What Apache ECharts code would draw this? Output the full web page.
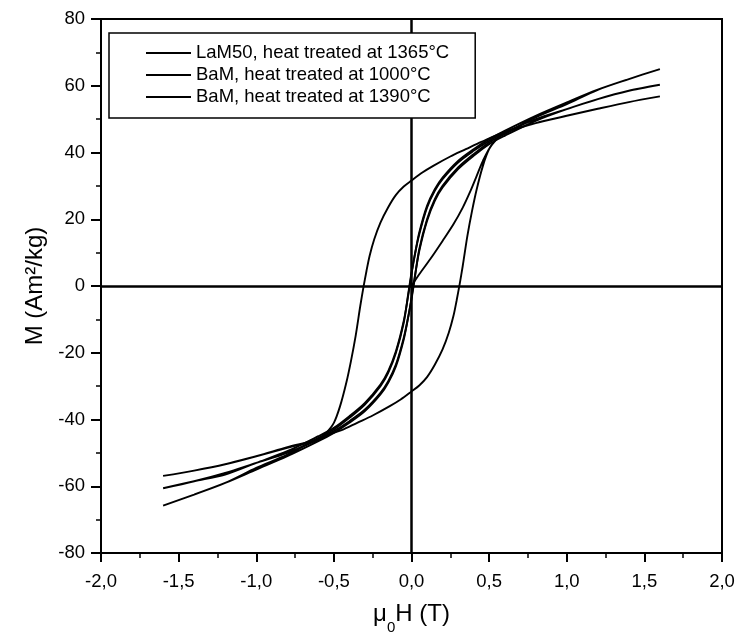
<!DOCTYPE html>
<html>
<head>
<meta charset="utf-8">
<script src="https://cdn.jsdelivr.net/npm/echarts@6/dist/echarts.min.js"></script>
<style>
html,body{margin:0;padding:0;background:#fff;}
#chart{width:740px;height:640px;}
</style>
</head>
<body>
<div id="chart"></div>
<script>
// ---------- data ----------
const seriesNames = [
  'LaM50, heat treated at 1365°C',
  'BaM, heat treated at 1000°C',
  'BaM, heat treated at 1390°C'
];

// wide loop (with initial magnetisation curve): H (T), M (Am²/kg)
const wideH = [
  0, 0.05, 0.12, 0.2, 0.27, 0.33, 0.38, 0.42, 0.46, 0.52, 0.6, 0.8, 1.0, 1.2, 1.4, 1.6,
  1.4, 1.2, 1.0, 0.8, 0.6, 0.45, 0.35, 0.25, 0.14, 0.07, 0, -0.05, -0.1, -0.15, -0.2, -0.24, -0.27, -0.29, -0.31, -0.33, -0.36, -0.39, -0.42, -0.46, -0.5, -0.55, -0.6, -0.8, -1.0, -1.2, -1.4, -1.6,
  -1.4, -1.2, -1.0, -0.8, -0.6, -0.55, -0.45, -0.35, -0.25, -0.14, -0.07, 0, 0.05, 0.1, 0.15, 0.2, 0.24, 0.27, 0.29, 0.31, 0.33, 0.36, 0.39, 0.42, 0.46, 0.5, 0.55, 0.6, 0.8, 1.0, 1.2, 1.4, 1.6
];
const wideM = [
  0, 3.5, 8, 13.5, 18.5, 23.5, 28.5, 33, 37.5, 42.5, 46, 48.8, 51, 53.1, 55.1, 56.8,
  55.1, 53.1, 51, 48.8, 46.2, 43.2, 41, 38.8, 36, 34, 31.6, 29.8, 27.3, 23.6, 19, 14, 9, 4.5, -0.5, -6, -15, -22.5, -29, -36, -41, -44, -45.8, -48.3, -51, -53.4, -55.3, -56.9,
  -55.3, -53.4, -51, -48.5, -46.2, -44.8, -43.2, -41, -38.8, -36, -34, -31.6, -29.8, -27.3, -23.6, -19, -14, -9, -4.5, 0.5, 6, 15, 22.5, 29, 36, 41, 44, 45.8, 48.8, 51, 53.1, 55.1, 56.8
];

// narrow loop with highest magnetisation at 1.6 T
const narrowAH = [
  1.6, 1.4, 1.2, 1.0, 0.8, 0.6, 0.5, 0.4, 0.3, 0.2, 0.15, 0.1, 0.05, 0.02, 0, -0.02, -0.05, -0.1, -0.15, -0.2, -0.3, -0.4, -0.5, -0.6, -0.8, -1.0, -1.2, -1.4, -1.6,
  -1.4, -1.2, -1.0, -0.8, -0.6, -0.5, -0.4, -0.3, -0.2, -0.15, -0.1, -0.05, -0.02, 0, 0.02, 0.05, 0.1, 0.15, 0.2, 0.3, 0.4, 0.5, 0.6, 0.8, 1.0, 1.2, 1.4, 1.6
];
const narrowAM = [
  65, 62, 58.8, 55, 51, 46.5, 44, 41, 37.5, 32.5, 29, 24, 16, 9, 4, -2, -11, -20, -26, -30, -35.5, -39.5, -43, -45.5, -50.5, -54.5, -59, -62.5, -65.8,
  -62.5, -59, -55, -51, -46.5, -44, -41, -37.5, -32.5, -29, -24, -16, -9, -4, 2, 11, 20, 26, 30, 35.5, 39.5, 43, 45.5, 50.5, 54.5, 58.8, 62, 65
];

// narrow loop with intermediate magnetisation at 1.6 T
const narrowBH = [
  1.6, 1.4, 1.2, 1.0, 0.8, 0.6, 0.5, 0.4, 0.3, 0.2, 0.15, 0.1, 0.05, 0.02, 0, -0.02, -0.05, -0.1, -0.15, -0.2, -0.3, -0.4, -0.5, -0.6, -0.8, -1.0, -1.2, -1.4, -1.6,
  -1.4, -1.2, -1.0, -0.8, -0.6, -0.5, -0.4, -0.3, -0.2, -0.15, -0.1, -0.05, -0.02, 0, 0.02, 0.05, 0.1, 0.15, 0.2, 0.3, 0.4, 0.5, 0.6, 0.8, 1.0, 1.2, 1.4, 1.6
];
const narrowBM = [
  60.3, 58.5, 56, 53, 50, 46, 43.5, 40.5, 37, 32, 28.5, 23.5, 15.5, 9, 3.5, -2.5, -10.5, -19.5, -25.5, -29.5, -35, -39, -42.5, -45, -49.5, -53, -56.5, -58.5, -60.6,
  -58.5, -56, -53, -50, -46, -43.5, -40.5, -37, -32, -28.5, -23.5, -15.5, -9, -3.5, 2.5, 10.5, 19.5, 25.5, 29.5, 35, 39, 42.5, 45, 49.5, 53, 56, 58.5, 60.3
];

const xTicks = [-2, -1.5, -1, -0.5, 0, 0.5, 1, 1.5, 2];
const yTicks = [-80, -60, -40, -20, 0, 20, 40, 60, 80];

// ---------- chart ----------
const pairs = (h, m) => h.map((v, i) => [v, m[i]]);
const FONT = '"Liberation Sans", Arial, sans-serif';
const chart = echarts.init(document.getElementById('chart'), null, {renderer: 'canvas'});

function lineSeries(name, data, extra) {
  return Object.assign({
    name: name,
    type: 'line',
    data: data,
    symbol: 'none',
    smooth: 0.3,
    lineStyle: {color: '#000', width: 1.9},
    itemStyle: {color: '#000'},
    z: 3
  }, extra || {});
}

chart.setOption({
  animation: false,
  backgroundColor: '#fff',
  grid: {left: 101, right: 18, top: 19, bottom: 85, show: true, borderColor: '#000', borderWidth: 2, backgroundColor: 'transparent'},
  legend: {
    orient: 'vertical',
    left: 109, top: 33,
    padding: [10, 26, 11, 37],
    itemWidth: 45, itemHeight: 2, itemGap: 2,
    borderColor: '#000', borderWidth: 1.5,
    backgroundColor: '#fff',
    icon: 'rect',
    textStyle: {fontFamily: FONT, fontSize: 18.5, color: '#000', lineHeight: 20},
    data: seriesNames,
    z: 10
  },
  xAxis: {
    type: 'value', min: xTicks[0], max: xTicks[xTicks.length - 1], interval: 0.5,
    name: '{a|μ}{s|0}{a|H (T)}',
    nameLocation: 'middle', nameGap: 49,
    nameTextStyle: {rich: {
      a: {fontFamily: FONT, fontSize: 24, color: '#000'},
      s: {fontFamily: FONT, fontSize: 15, color: '#000', verticalAlign: 'bottom', padding: [0, 0, -9, 0]}
    }},
    axisLine: {show: true, onZero: false, lineStyle: {color: '#000', width: 2}},
    axisTick: {show: true, inside: false, length: 9, lineStyle: {color: '#000', width: 2}},
    minorTick: {show: true, splitNumber: 2, length: 5, lineStyle: {color: '#000', width: 1.5}},
    splitLine: {show: false},
    axisLabel: {fontFamily: FONT, fontSize: 18.5, color: '#000', margin: 19,
      formatter: v => v.toFixed(1).replace('.', ',')}
  },
  yAxis: {
    type: 'value', min: yTicks[0], max: yTicks[yTicks.length - 1], interval: 20,
    name: 'M (Am²/kg)',
    nameLocation: 'middle', nameGap: 52, nameRotate: 90,
    nameTextStyle: {fontFamily: FONT, fontSize: 24, color: '#000'},
    axisLine: {show: true, onZero: false, lineStyle: {color: '#000', width: 2}},
    axisTick: {show: true, inside: false, length: 10, lineStyle: {color: '#000', width: 2}},
    minorTick: {show: true, splitNumber: 2, length: 5, lineStyle: {color: '#000', width: 1.5}},
    splitLine: {show: false},
    axisLabel: {fontFamily: FONT, fontSize: 18.5, color: '#000', margin: 16}
  },
  series: [
    lineSeries(seriesNames[0], pairs(wideH, wideM), {
      markLine: {
        silent: true, symbol: 'none', label: {show: false},
        lineStyle: {color: '#000', width: 2.5, type: 'solid'},
        data: [{xAxis: 0}, {yAxis: 0}],
        z: 2
      }
    }),
    lineSeries(seriesNames[1], pairs(narrowBH, narrowBM)),
    lineSeries(seriesNames[2], pairs(narrowAH, narrowAM))
  ]
});
</script>
</body>
</html>
